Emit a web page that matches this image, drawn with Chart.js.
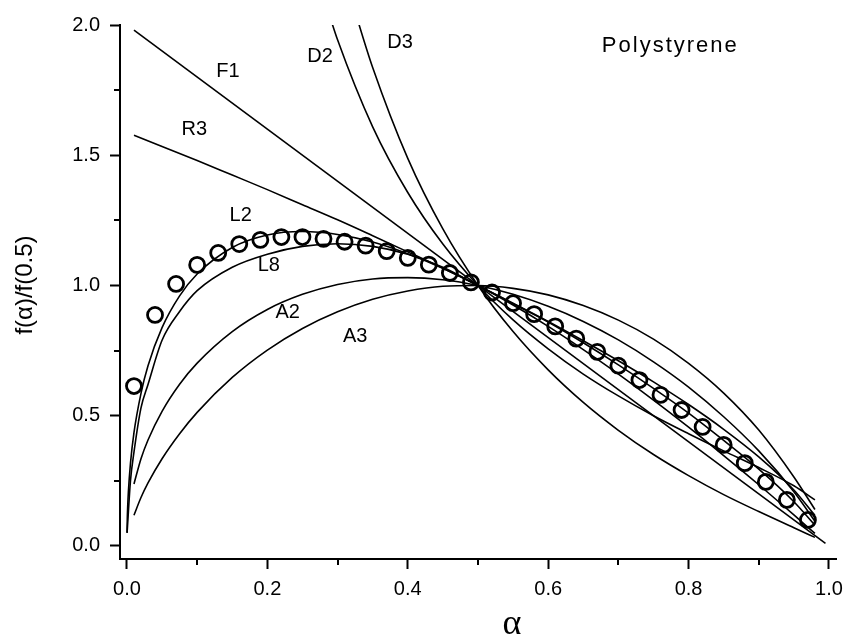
<!DOCTYPE html>
<html>
<head>
<meta charset="utf-8">
<script src="https://cdn.jsdelivr.net/npm/chart.js@4.4.1/dist/chart.umd.min.js"></script>
<style>
  html, body { margin: 0; padding: 0; background: #fff; }
</style>
</head>
<body>
<canvas id="c" width="851" height="639"></canvas>
<script>
// master plots f(a)/f(0.5)
const alphaF1 = [0.01, 0.995];
const valF1 = [1.98, 0.01];

const alphaR3 = [0.01, 0.05, 0.1, 0.15, 0.2, 0.25, 0.3, 0.35, 0.4, 0.45, 0.5, 0.55, 0.6, 0.65, 0.7, 0.75, 0.8, 0.85, 0.9, 0.95, 0.98];
const valR3 = [1.577, 1.534, 1.480, 1.424, 1.368, 1.310, 1.252, 1.191, 1.129, 1.066, 1.0, 0.932, 0.862, 0.788, 0.711, 0.630, 0.543, 0.448, 0.342, 0.215, 0.117];

const alphaD2 = [0.28, 0.3, 0.35, 0.4, 0.45, 0.5, 0.55, 0.6, 0.65, 0.7, 0.75, 0.8, 0.85, 0.9, 0.95, 0.98];
const valD2 = [2.110, 1.943, 1.609, 1.357, 1.159, 1.0, 0.868, 0.757, 0.660, 0.576, 0.500, 0.431, 0.365, 0.301, 0.231, 0.177];

const alphaD3 = [0.32, 0.33, 0.35, 0.4, 0.45, 0.5, 0.55, 0.6, 0.65, 0.7, 0.75, 0.8, 0.85, 0.9, 0.95, 0.98];
const valD3 = [2.099, 2.007, 1.837, 1.488, 1.217, 1.0, 0.823, 0.676, 0.551, 0.444, 0.351, 0.270, 0.197, 0.132, 0.070, 0.033];

const alphaA = [0.01, 0.02, 0.03, 0.05, 0.075, 0.1, 0.15, 0.2, 0.25, 0.3, 0.35, 0.4, 0.45, 0.5, 0.55, 0.6, 0.65, 0.7, 0.75, 0.8, 0.85, 0.9, 0.95, 0.98];
const valA2 = [0.238, 0.335, 0.407, 0.517, 0.621, 0.702, 0.823, 0.908, 0.966, 1.004, 1.025, 1.030, 1.022, 1.0, 0.966, 0.920, 0.862, 0.791, 0.707, 0.610, 0.496, 0.365, 0.208, 0.095];
const valA3 = [0.118, 0.186, 0.242, 0.335, 0.431, 0.513, 0.647, 0.752, 0.835, 0.899, 0.947, 0.979, 0.997, 1.0, 0.989, 0.964, 0.923, 0.867, 0.794, 0.701, 0.587, 0.445, 0.265, 0.14];

const alphaL2 = [0.00012, 0.0005, 0.001, 0.002, 0.005, 0.01, 0.02, 0.03, 0.05, 0.075, 0.1, 0.15, 0.2, 0.25, 0.3, 0.35, 0.4, 0.45, 0.5, 0.55, 0.6, 0.65, 0.7, 0.75, 0.8, 0.85, 0.9, 0.95, 0.98];
const valL2 = [0.052, 0.106, 0.148, 0.206, 0.317, 0.435, 0.586, 0.692, 0.838, 0.960, 1.044, 1.146, 1.194, 1.207, 1.196, 1.167, 1.122, 1.066, 1.0, 0.925, 0.843, 0.754, 0.660, 0.560, 0.456, 0.347, 0.235, 0.119, 0.048];

const alphaL8 = [0.0002, 0.005, 0.01, 0.02, 0.03, 0.05, 0.075, 0.1, 0.15, 0.2, 0.25, 0.3, 0.35, 0.4, 0.45, 0.5, 0.55, 0.6, 0.65, 0.7, 0.75, 0.8, 0.85, 0.9, 0.95, 0.98];
const valL8 = [0.05, 0.25, 0.36, 0.53, 0.62, 0.79, 0.90, 0.98, 1.07, 1.12, 1.15, 1.16, 1.15, 1.12, 1.07, 1.0, 0.93, 0.86, 0.78, 0.695, 0.605, 0.51, 0.405, 0.295, 0.17, 0.08];

// experimental points (circles)
const alphaExp = [0.01, 0.04, 0.07, 0.10, 0.13, 0.16, 0.19, 0.22, 0.25, 0.28, 0.31, 0.34, 0.37, 0.40, 0.43, 0.46, 0.49, 0.52, 0.55, 0.58, 0.61, 0.64, 0.67, 0.70, 0.73, 0.76, 0.79, 0.82, 0.85, 0.88, 0.91, 0.94, 0.97];
const valExp = [0.614, 0.887, 1.006, 1.079, 1.125, 1.159, 1.175, 1.186, 1.186, 1.179, 1.168, 1.153, 1.132, 1.106, 1.080, 1.048, 1.012, 0.973, 0.932, 0.890, 0.843, 0.796, 0.745, 0.692, 0.637, 0.580, 0.522, 0.457, 0.388, 0.318, 0.246, 0.177, 0.100];

const xMajor = [0, 0.2, 0.4, 0.6, 0.8, 1.0];
const xMinor = [0.1, 0.3, 0.5, 0.7, 0.9];
const yMajor = [0, 0.5, 1.0, 1.5, 2.0];
const yMinor = [0.25, 0.75, 1.25, 1.75];

// label text with its anchor in data units
const curveLabels = [['F1', 0.144, 1.823], ['R3', 0.096, 1.597], ['L2', 0.162, 1.267], ['L8', 0.202, 1.075], ['A2', 0.229, 0.898], ['A3', 0.325, 0.806], ['D2', 0.275, 1.881], ['D3', 0.389, 1.931]];

const FONT = "'Liberation Sans', Arial, sans-serif";
const pts = (xs, ys) => xs.map((x, i) => ({ x, y: ys[i] }));
const curve = (label, xs, ys) => ({ label, data: pts(xs, ys), borderColor: '#000', borderWidth: 1.6, pointRadius: 0, cubicInterpolationMode: 'monotone', fill: false });

const extras = {
  id: 'extras',
  afterDraw(chart) {
    const { ctx, scales: { x, y } } = chart;
    ctx.save();
    ctx.strokeStyle = '#000';
    ctx.lineWidth = 2;
    xMinor.forEach((v) => { const px = Math.round(x.getPixelForValue(v)); ctx.beginPath(); ctx.moveTo(px, x.top); ctx.lineTo(px, x.top + 6); ctx.stroke(); });
    yMinor.forEach((v) => { const py = Math.round(y.getPixelForValue(v)); ctx.beginPath(); ctx.moveTo(y.right, py); ctx.lineTo(y.right - 6, py); ctx.stroke(); });
    ctx.fillStyle = '#000';
    ctx.textAlign = 'center';
    ctx.textBaseline = 'middle';
    ctx.font = `20px ${FONT}`;
    curveLabels.forEach(([t, a, v]) => ctx.fillText(t, x.getPixelForValue(a), y.getPixelForValue(v)));
    ctx.font = `22px ${FONT}`;
    ctx.letterSpacing = '2px';
    ctx.fillText('Polystyrene', x.getPixelForValue(0.774), y.getPixelForValue(1.919));
    ctx.letterSpacing = '0px';
    ctx.font = `36px 'Liberation Serif', serif`;
    ctx.fillText('α', 512, 625);
    ctx.translate(25, 285);
    ctx.rotate(-Math.PI / 2);
    ctx.font = `24px ${FONT}`;
    ctx.fillText('f(α)/f(0.5)', 0, 0);
    ctx.restore();
  },
};

const axis = (min, max, major, extra) => ({
  type: 'linear', min, max,
  afterBuildTicks: (s) => { s.ticks = major.map((value) => ({ value })); },
  grid: { drawOnChartArea: false, tickLength: 10, tickWidth: 2, tickColor: '#000' },
  border: { color: '#000', width: 2 },
  ticks: { color: '#000', font: { family: FONT, size: 20 }, maxRotation: 0, callback: (v) => v.toFixed(1), ...extra.ticks },
  afterFit: extra.afterFit,
});

new Chart(document.getElementById('c'), {
  type: 'line',
  data: {
    datasets: [
      curve('F1', alphaF1, valF1), curve('R3', alphaR3, valR3), curve('D2', alphaD2, valD2), curve('D3', alphaD3, valD3),
      curve('A2', alphaA, valA2), curve('A3', alphaA, valA3), curve('L2', alphaL2, valL2), curve('L8', alphaL8, valL8),
      { label: 'Polystyrene', data: pts(alphaExp, valExp), showLine: false, pointRadius: 7.5, pointHoverRadius: 7.5, pointBorderWidth: 2.8, pointBorderColor: '#000', pointBackgroundColor: 'rgba(0,0,0,0)' },
    ],
  },
  options: {
    responsive: false, animation: false, events: [],
    layout: { padding: { top: 25, right: 9, left: 0, bottom: 0 } },
    plugins: { legend: { display: false }, tooltip: { enabled: false } },
    scales: {
      x: axis(-0.0099, 1.0106, xMajor, { ticks: { padding: 8 }, afterFit: (s) => { s.height = 80; } }),
      y: axis(-0.05, 2.0, yMajor, { ticks: { padding: 10 }, afterFit: (s) => { s.width = 120; } }),
    },
  },
  plugins: [extras],
});
</script>
</body>
</html>
